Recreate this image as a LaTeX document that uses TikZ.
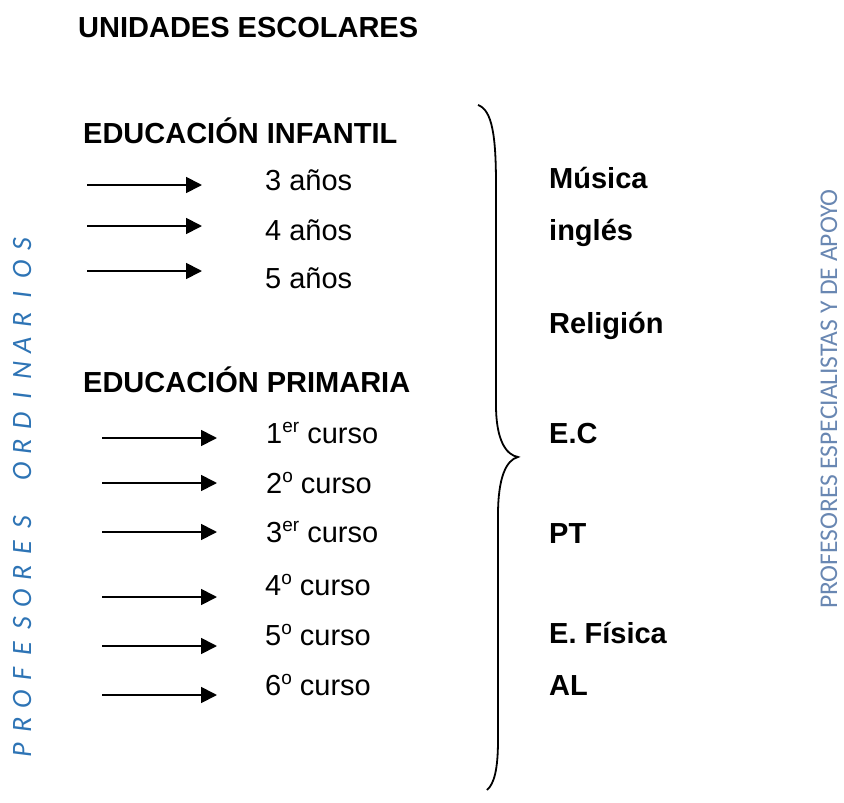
\documentclass[tikz,border=0pt]{standalone}
\usepackage{fontspec}
\setmainfont{Liberation Sans}
\newfontfamily\calib{Carlito}
\usetikzlibrary{arrows.meta}
\definecolor{ordblue}{RGB}{46,116,181}
\definecolor{espblue}{RGB}{105,135,178}
\newcommand\supx[1]{\raisebox{0.36em}{\fontsize{19}{19}\selectfont #1}}
\begin{document}
\begin{tikzpicture}[x=1pt,y=-1pt,
  txt/.style={inner sep=0pt, anchor=base west, font=\fontsize{29}{34}\selectfont},
  hd/.style={txt, font=\fontsize{29}{34}\selectfont\bfseries},
  arr/.style={line width=1.8pt, -{Triangle[length=16pt,width=16pt]}},
  vl/.style={inner sep=0pt, anchor=base, rotate=90, text=ordblue,
    font=\calib\itshape\fontsize{28}{28}\selectfont},
  vr/.style={inner sep=0pt, anchor=base, rotate=90, text=espblue, text depth=0pt,
    font=\calib\fontsize{25.5}{26}\selectfont},
  bracepath/.style={line width=1.8pt}]
\useasboundingbox (0,0) rectangle (844,803);

% title and headings
\node[hd] (title) at (78,37) {UNIDADES ESCOLARES};
\node[hd] (inf) at (83,143) {EDUCACIÓN INFANTIL};
\node[hd] (pri) at (83,392) {EDUCACIÓN PRIMARIA};

% infantil items
\node[txt] (a3) at (265,190) {3 años};
\node[txt] (a4) at (265,240) {4 años};
\node[txt] (a5) at (265,288) {5 años};

% primaria items
\node[txt] (c1) at (266,443) {1\supx{er} curso};
\node[txt] (c2) at (266,493) {2\supx{o} curso};
\node[txt] (c3) at (266,542) {3\supx{er} curso};
\node[txt] (c4) at (265,595) {4\supx{o} curso};
\node[txt] (c5) at (265,645) {5\supx{o} curso};
\node[txt] (c6) at (265,695) {6\supx{o} curso};

% arrows
\foreach \y [count=\i] in {185,226,271} {
  \coordinate (ais\i) at (87,\y);
  \coordinate (aie\i) at (202,\y);
  \draw[arr] (ais\i) -- (aie\i);
}
\foreach \y [count=\i] in {438,483,532,597,646,695} {
  \coordinate (aps\i) at (102,\y);
  \coordinate (ape\i) at (217,\y);
  \draw[arr] (aps\i) -- (ape\i);
}

% brace
\draw[bracepath] (478,105) .. controls (492,110) and (496,135) .. (496,185)
  -- (496,405) .. controls (496,440) and (506,455) .. (518,457)
  .. controls (506,460) and (498,478) .. (498,515)
  -- (498,740) .. controls (498,770) and (494,784) .. (487,790);

% specialists
\node[hd] (mus) at (549,188) {Música};
\node[hd] (ing) at (549,240) {inglés};
\node[hd] (rel) at (549,333) {Religión};
\node[hd] (ec) at (549,443) {E.C};
\node[hd] (pt) at (549,543) {PT};
\node[hd] (ef) at (549,643) {E. Física};
\node[hd] (al) at (549,695) {AL};

% vertical left text
\foreach \c [count=\i from 0] in {P,R,O,F,E,S,O,R,E,S}
  \node[vl] (pw\i) at (31,750-25.3*\i) {\c};
\foreach \c [count=\i from 0] in {O,R,D,I,N,A,R,I,O,S}
  \node[vl] (ow\i) at (31,750-25.3*11-25.3*\i) {\c};

% vertical right text
\node[vr] (esp) at (837,399) {PROFESORES ESPECIALISTAS Y DE APOYO};
\end{tikzpicture}
\end{document}
